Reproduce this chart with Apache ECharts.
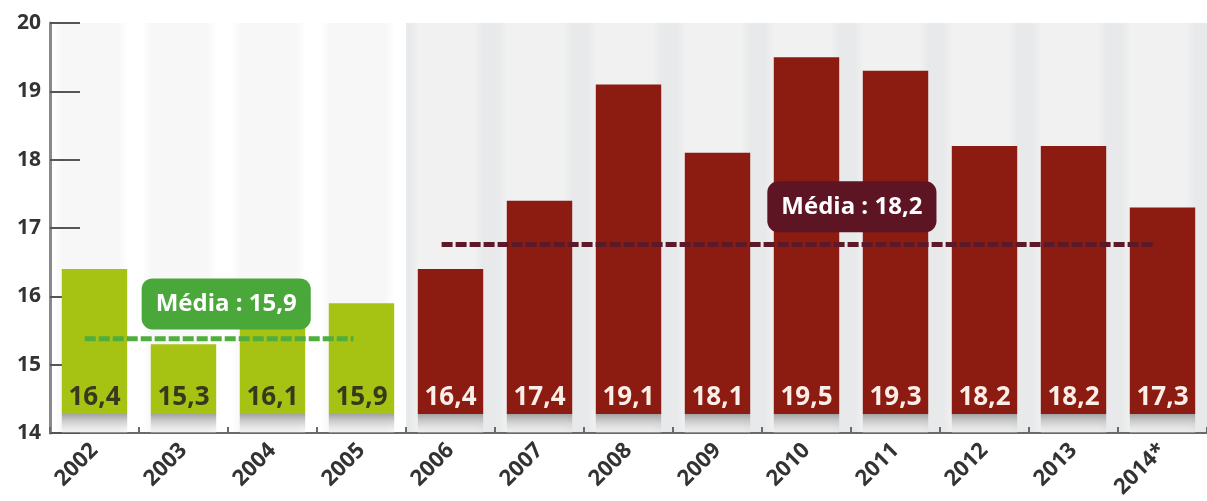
<!DOCTYPE html>
<html>
<head>
<meta charset="utf-8">
<script src="https://cdn.jsdelivr.net/npm/echarts@6/dist/echarts.min.js"></script>
<style>
  html, body { margin: 0; padding: 0; background: #ffffff; }
  #chart { width: 1207px; height: 501px; }
</style>
</head>
<body>
<div id="chart"></div>
<script>
// ---- data ----
const categories = ['2002', '2003', '2004', '2005', '2006', '2007', '2008', '2009', '2010', '2011', '2012', '2013', '2014*'];
const values = [16.4, 15.3, 16.1, 15.9, 16.4, 17.4, 19.1, 18.1, 19.5, 19.3, 18.2, 18.2, 17.3];
const periods = [0, 0, 0, 0, 1, 1, 1, 1, 1, 1, 1, 1, 1]; // 0 = 2002-2005 (green), 1 = 2006-2014 (red)
const yTicks = [14, 15, 16, 17, 18, 19, 20];
// mean lines as drawn in the picture: [startIndex, endIndex, level]
const meanLines = [[-0.11, 2.91, 15.38], [3.90, 11.89, 16.76]];
// mean labels: [xIndex, yValue, text]
const meanLabels = [[1.48, 15.89, 'Média : 15,9'], [8.51, 17.31, 'Média : 18,2']];

// ---- style ----
const FONT = 'Open Sans';
const BASE = 14.28;                     // where the coloured part of each bar starts (shadow below)
const barColors = ['#a6c314', '#8c1b11'];
const labelColors = ['#38381f', '#fbeee8'];
const lineColors = ['#4fae3e', '#5c1a28'];
const boxColors = ['#4aa83a', '#5d1524'];
const stripeColors = [['#ffffff', '#f7f7f7'], ['#e8e9ea', '#f1f1f1']];
const BAR_FRAC = 0.735;

const fmt = v => v.toFixed(1).replace('.', ',');

const bgData = categories.map((c, i) => [i, periods[i]]);

const series = [];

// background stripes
series.push({
  type: 'custom',
  xAxisIndex: 0,
  yAxisIndex: 0,
  silent: true,
  z: 0,
  data: bgData,
  encode: { x: 0, y: -1 },
  renderItem: function (params, api) {
    const idx = api.value(0);
    const g = api.value(1);
    const top = api.coord([idx, yTicks[yTicks.length - 1]]);
    const bot = api.coord([idx, yTicks[0]]);
    const w = api.size([1, 0])[0];
    const bw = w * BAR_FRAC;
    const c = stripeColors[g];
    return {
      type: 'group',
      children: [
        { type: 'rect', shape: { x: top[0] - w / 2, y: top[1], width: w + 0.5, height: bot[1] - top[1] },
          style: { fill: c[0] } },
        { type: 'rect', shape: { x: top[0] - bw / 2 - 8, y: top[1], width: bw + 8, height: bot[1] - top[1] },
          style: { fill: new echarts.graphic.LinearGradient(0, 0, 1, 0, [
            { offset: 0, color: c[0] }, { offset: 0.12, color: c[1] },
            { offset: 0.88, color: c[1] }, { offset: 1, color: c[0] }
          ]) } }
      ]
    };
  }
});

// shadow base under bars
series.push({
  type: 'bar',
  stack: 's',
  barCategoryGap: '26.5%',
  z: 2,
  silent: true,
  data: values.map(() => BASE),
  itemStyle: {
    color: new echarts.graphic.LinearGradient(0, 0, 0, 1, [
      { offset: 0, color: '#a2a2a2' },
      { offset: 1, color: 'rgba(235,235,235,0.3)' }
    ])
  }
});

[0, 1].forEach(g => {
  series.push({
    type: 'bar',
    stack: 's',
    z: 2,
    data: values.map((v, i) => periods[i] === g ? +(v - BASE).toFixed(3) : '-'),
    itemStyle: { color: barColors[g] },
    label: {
      show: true,
      position: 'insideBottom',
      distance: 3,
      formatter: p => fmt(values[p.dataIndex]),
      fontFamily: FONT,
      fontWeight: 'bold',
      fontSize: 26,
      color: labelColors[g]
    }
  });
});

// mean lines
meanLines.forEach((m, k) => {
  series.push({
    type: 'line',
    xAxisIndex: 1,
    yAxisIndex: 0,
    z: 5,
    silent: true,
    symbol: 'none',
    data: [[m[0], m[2]], [m[1], m[2]]],
    lineStyle: { color: lineColors[k], width: 5, type: [11, 3] }
  });
});

// mean labels
meanLabels.forEach((m, k) => {
  series.push({
    type: 'scatter',
    xAxisIndex: 1,
    yAxisIndex: 0,
    z: 6,
    silent: true,
    symbolSize: 2,
    itemStyle: { color: 'rgba(0,0,0,0)', opacity: 1 },
    emphasis: { disabled: true },
    data: [[m[0], m[1]]],
    label: {
      show: true,
      position: 'inside',
      formatter: m[2],
      fontFamily: FONT,
      fontWeight: 'bold',
      fontSize: 24,
      color: '#ffffff',
      backgroundColor: boxColors[k],
      borderRadius: 11,
      padding: [14, 14, 13, 14]
    }
  });
});

const chart = echarts.init(document.getElementById('chart'), null, { renderer: 'canvas' });
chart.setOption({
  animation: false,
  backgroundColor: '#ffffff',
  grid: { left: 50, right: -10, top: 23, bottom: 67, containLabel: false },
  xAxis: [{
    type: 'category',
    data: categories,
    axisLine: { lineStyle: { color: '#6a6a6a', width: 2 } },
    axisTick: { show: true, inside: true, length: 6, interval: 0, lineStyle: { color: '#6a6a6a', width: 2 } },
    axisLabel: {
      interval: 0, rotate: 45, margin: 14,
      fontFamily: FONT, fontWeight: 'bold', fontSize: 22, color: '#333333'
    },
    splitLine: { show: false }
  }, {
    type: 'value',
    min: -0.5,
    max: categories.length - 0.5,
    show: false
  }],
  yAxis: [{
    type: 'value',
    min: yTicks[0],
    max: yTicks[yTicks.length - 1],
    interval: 1,
    axisLine: { show: true, onZero: false, lineStyle: { color: '#8a8a8a', width: 3 } },
    axisTick: { show: true, inside: true, length: 30, lineStyle: { color: '#555555', width: 2 } },
    axisLabel: { fontFamily: FONT, fontWeight: 'bold', fontSize: 21, color: '#333333', margin: 9 },
    splitLine: { show: false }
  }],
  series: series
});
</script>
</body>
</html>
